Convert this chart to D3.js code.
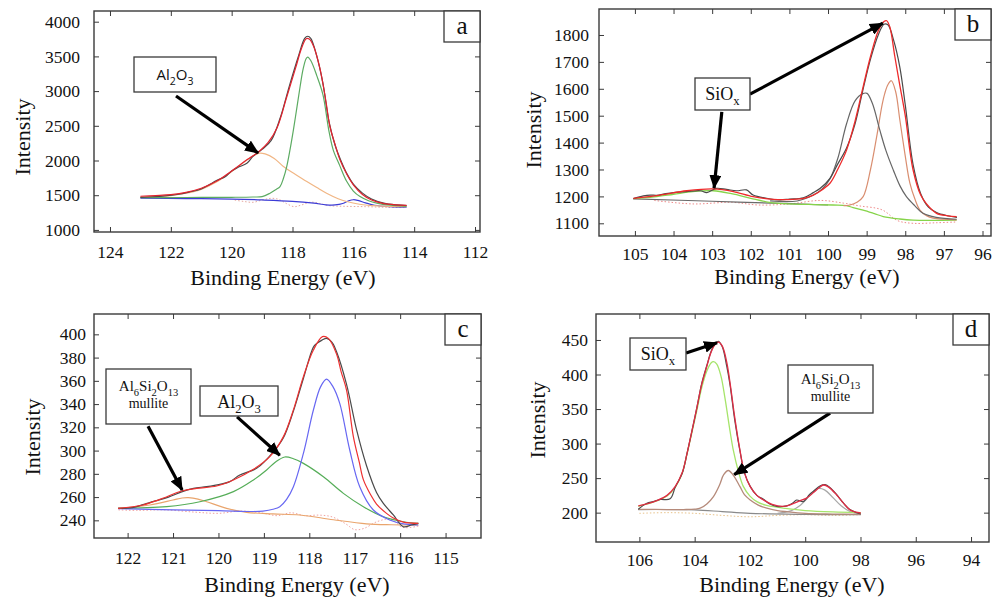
<!DOCTYPE html>
<meta charset="utf-8">
<style>
body { margin: 0; background: #fff; }
.frame { fill: none; stroke: #3a3a3a; stroke-width: 1.4; }
.tick line { stroke: #3a3a3a; stroke-width: 1; }
.curve { fill: none; }
.box { fill: #fff; stroke: #3a3a3a; stroke-width: 1.3; }
.arrow { stroke: #000; stroke-width: 3.2; fill: none; }
</style>
<body>
<script src="https://cdn.jsdelivr.net/npm/d3@7"></script>
<script>
var SERIF = "Liberation Serif";
var SANS = "Open Sans";

// ---------- panel a : Al 2p, as deposited  (energy eV, intensity)
var aRaw = [[123.0,1470],[122.6,1478],[122.2,1490],[121.8,1510],[121.4,1545],[121.0,1590],[120.7,1660],[120.5,1712],[120.2,1770],[120.0,1850],[119.8,1900],[119.5,1960],[119.3,2060],[119.0,2160],[118.7,2290],[118.4,2620],[118.1,3080],[117.8,3510],[117.6,3760],[117.5,3790],[117.4,3760],[117.2,3500],[117.0,3110],[116.8,2560],[116.6,2220],[116.4,1990],[116.2,1800],[116.0,1660],[115.7,1530],[115.4,1445],[115.0,1385],[114.6,1360],[114.25,1352]];
var aFit = [[123.0,1485],[122.5,1495],[122.0,1508],[121.5,1540],[121.0,1600],[120.5,1700],[120.0,1850],[119.5,2010],[119.1,2130],[118.8,2260],[118.5,2480],[118.2,2900],[117.9,3330],[117.7,3620],[117.55,3755],[117.45,3750],[117.3,3640],[117.1,3330],[116.9,2850],[116.77,2490],[116.6,2230],[116.44,2010],[116.2,1790],[116.0,1650],[115.7,1510],[115.4,1430],[115.0,1380],[114.6,1362],[114.25,1355]];
var aAl2O3 = [[123.0,1470],[122.0,1495],[121.5,1528],[121.0,1585],[120.5,1690],[120.0,1840],[119.6,1975],[119.3,2065],[119.1,2105],[118.9,2095],[118.6,2030],[118.3,1915],[117.9,1800],[117.53,1697],[117.2,1610],[116.88,1529],[116.5,1450],[116.22,1409],[115.8,1370],[115.2,1345],[114.25,1335]];
var aMetal = [[123.0,1465],[121.5,1467],[120.0,1470],[119.3,1474],[119.0,1480],[118.74,1529],[118.55,1580],[118.41,1624],[118.3,1740],[118.19,1913],[118.08,2160],[117.97,2442],[117.85,2780],[117.75,3066],[117.65,3320],[117.55,3470],[117.5,3490],[117.4,3440],[117.2,3220],[117.0,2950],[116.8,2420],[116.66,2150],[116.45,1930],[116.22,1700],[116.0,1560],[115.78,1480],[115.5,1420],[115.23,1385],[114.8,1355],[114.25,1340]];
var aBase = [[123.0,1457],[121.5,1452],[120.0,1445],[119.0,1432],[118.0,1412],[117.3,1385],[116.9,1362],[116.6,1360],[116.35,1380],[116.15,1420],[116.0,1435],[115.85,1425],[115.6,1390],[115.3,1355],[114.8,1335],[114.25,1328]];
var aResid = [[119.9,1430],[119.6,1410],[119.3,1398],[119.0,1430],[118.7,1455],[118.45,1440],[118.2,1380],[117.95,1335],[117.7,1360],[117.4,1400],[117.1,1380],[116.8,1350],[116.3,1340],[115.6,1335],[114.9,1325],[114.25,1322]];
var aXTicks = [124, 122, 120, 118, 116, 114, 112];
var aYTicks = [1000, 1500, 2000, 2500, 3000, 3500, 4000];

// ---------- panel b : Si 2p
var bRaw = [[105.04,1192],[104.78,1202],[104.6,1205],[104.44,1204],[104.2,1210],[104.0,1214],[103.66,1218],[103.3,1221],[103.14,1214],[102.89,1230],[102.63,1226],[102.37,1221],[102.11,1224],[101.94,1205],[101.59,1193],[101.25,1187],[101.0,1190],[100.64,1195],[100.38,1214],[100.2,1230],[99.95,1267],[99.75,1320],[99.52,1380],[99.3,1470],[99.09,1600],[98.9,1710],[98.7,1800],[98.55,1840],[98.45,1838],[98.3,1780],[98.14,1680],[98.0,1540],[97.8,1320],[97.6,1210],[97.4,1160],[97.19,1140],[96.9,1128],[96.66,1122]];
var bFit = [[105.04,1193],[104.35,1205],[103.66,1221],[102.97,1228],[102.45,1218],[101.94,1199],[101.42,1189],[100.9,1189],[100.6,1194],[100.38,1205],[100.15,1225],[99.95,1249],[99.75,1300],[99.52,1372],[99.3,1480],[99.09,1608],[98.9,1720],[98.7,1815],[98.55,1850],[98.48,1853],[98.4,1830],[98.27,1720],[98.15,1620],[98.0,1500],[97.8,1300],[97.6,1205],[97.45,1172],[97.19,1137],[96.9,1128],[96.67,1125]];
var bSi1 = [[101.5,1183],[100.8,1183],[100.38,1205],[100.15,1228],[99.95,1265],[99.75,1340],[99.52,1470],[99.3,1555],[99.1,1582],[98.99,1583],[98.85,1545],[98.66,1447],[98.5,1370],[98.31,1298],[98.14,1240],[97.97,1199],[97.75,1165],[97.54,1137],[97.2,1122],[96.67,1115]];
var bSi2 = [[99.6,1166],[99.43,1168],[99.25,1178],[99.09,1199],[98.9,1300],[98.74,1422],[98.6,1540],[98.53,1583],[98.45,1615],[98.36,1630],[98.25,1590],[98.14,1484],[98.0,1350],[97.88,1249],[97.75,1190],[97.62,1149],[97.45,1128],[97.28,1119],[96.67,1113]];
var bOx = [[105.04,1192],[104.5,1198],[104.0,1208],[103.5,1218],[102.97,1221],[102.5,1210],[102.0,1193],[101.6,1180],[101.25,1174],[100.5,1170],[99.87,1168],[99.52,1166],[99.35,1158],[99.09,1149],[98.8,1136],[98.57,1125],[98.14,1116],[97.8,1112],[96.67,1112]];
var bBase = [[105.04,1191],[103.0,1182],[101.0,1173],[100.0,1168]];
var bResid = [[104.5,1185],[103.5,1172],[102.5,1178],[101.8,1168],[101.0,1172],[100.2,1185],[99.6,1175],[99.2,1165],[98.6,1150],[98.2,1110],[97.8,1100],[97.2,1102],[96.67,1105]];
var bXTicks = [105, 104, 103, 102, 101, 100, 99, 98, 97, 96];
var bYTicks = [1100, 1200, 1300, 1400, 1500, 1600, 1700, 1800];

// ---------- panel c : Al 2p after anneal
var cRaw = [[122.21,250.3],[121.9,251],[121.66,253.5],[121.5,255.5],[121.36,257],[121.1,260],[120.81,264.5],[120.55,267.5],[120.26,269],[119.97,271],[119.75,273.3],[119.53,279],[119.16,284.7],[118.79,299],[118.57,311],[118.35,334],[118.13,362],[117.91,389],[117.84,392],[117.72,395],[117.62,396.5],[117.5,393],[117.4,385],[117.18,357],[116.96,318],[116.74,287],[116.52,264],[116.37,254.6],[116.15,244.6],[115.93,234.5],[115.75,236],[115.6,237.4]];
var cFit = [[122.21,250.3],[121.66,253.2],[121.29,258],[120.81,265.2],[120.48,267.5],[120.04,269.5],[119.67,274.7],[119.23,283.9],[118.87,294.8],[118.57,312],[118.35,335],[118.13,363.6],[117.91,386.5],[117.71,398],[117.58,396.5],[117.4,383],[117.3,368],[117.18,352],[117.03,312],[116.9,290],[116.81,275],[116.65,262],[116.52,254],[116.3,246],[116.15,242],[115.93,238.5],[115.6,237.4]];
var cAl = [[122.21,250],[121.0,249],[120.0,248.3],[119.23,247.6],[119.02,248],[118.8,249.5],[118.65,251.7],[118.5,258],[118.35,268.9],[118.13,297.6],[117.91,334.9],[117.75,355],[117.62,361.5],[117.48,355],[117.33,340.6],[117.11,300.5],[116.89,268.9],[116.59,248.9],[116.23,240.3],[115.93,237],[115.6,236]];
var cAl2O3 = [[122.21,250.3],[121.14,251.8],[120.41,256],[119.67,264.7],[119.23,274.7],[118.94,283.3],[118.75,290],[118.54,294.5],[118.35,293],[118.13,289],[117.69,277.5],[117.25,263.2],[116.81,251.7],[116.37,243.1],[115.93,238.8],[115.6,237.4]];
var cMullite = [[122.21,250.3],[121.51,253.2],[121.0,257.5],[120.8,259.2],[120.66,259.5],[120.45,258.3],[120.26,256],[119.82,250.3],[119.38,246.9],[118.8,245.5],[118.21,244.6],[117.47,240.5],[116.74,237],[116.2,236.2],[115.6,236]];
var cResid = [[122.2,249],[121.8,248.5],[121.2,249],[120.5,247],[120.0,246],[119.5,248],[119.0,246],[118.7,244],[118.4,246.5],[118.1,244],[117.8,244.5],[117.5,243],[117.2,237],[117.0,232],[116.8,233],[116.5,239],[116.2,241],[115.95,234],[115.6,235]];
var cXTicks = [122, 121, 120, 119, 118, 117, 116, 115];
var cYTicks = [240, 260, 280, 300, 320, 340, 360, 380, 400];

// ---------- panel d : Si 2p after anneal
var dRaw = [[106.04,204.8],[105.73,213.5],[105.5,216],[105.25,219],[104.89,220],[104.7,237],[104.45,257],[104.28,285],[104.1,318],[103.92,352],[103.75,386],[103.56,413],[103.4,434],[103.25,445],[103.14,448],[103.0,440],[102.84,412],[102.72,385],[102.55,334],[102.36,289],[102.2,258],[101.99,238],[101.75,225],[101.51,219.3],[101.3,213],[101.03,209],[100.67,209.7],[100.45,214],[100.31,218.3],[100.07,216],[99.85,226],[99.7,231],[99.45,239],[99.28,240.5],[99.1,236],[98.86,226],[98.62,214],[98.4,205],[98.2,201],[97.99,198]];
var dFit = [[106.04,209.7],[105.7,213],[105.37,217.5],[105.0,225],[104.7,238],[104.45,258],[104.28,285],[104.1,318],[103.92,352],[103.75,385],[103.56,412],[103.4,433],[103.25,444],[103.14,447],[103.0,441],[102.84,418],[102.72,388],[102.55,338],[102.36,290],[102.2,258],[101.99,237.6],[101.75,225],[101.51,218.4],[101.2,212],[100.8,209],[100.5,212],[100.2,217],[99.95,221],[99.7,229],[99.5,236],[99.34,240],[99.15,237],[98.86,225.6],[98.6,213],[98.38,204],[98.2,201],[97.99,199.5]];
var dSiOx = [[106.04,209],[105.37,217],[105.0,224],[104.7,237],[104.45,257],[104.28,284],[104.1,316],[103.92,348],[103.75,380],[103.56,405],[103.4,417],[103.32,418.6],[103.2,415],[103.05,398],[102.9,365],[102.72,318],[102.6,290],[102.42,260],[102.24,238],[102.0,224],[101.75,216],[101.4,210.5],[101.03,208],[100.5,205],[100.0,203],[99.0,201],[97.99,200]];
var dMullite = [[106.04,204.8],[105.0,204.5],[104.4,204.5],[104.0,205],[103.8,206.4],[103.55,213],[103.32,223.2],[103.1,240],[102.95,255],[102.78,261],[102.6,254],[102.36,237.6],[102.2,226],[101.99,218.4],[101.7,211],[101.39,206.4],[101.0,203],[100.67,201.4],[100.0,199],[99.0,198],[97.99,197.5]];
var dSi = [[101.0,199],[100.5,203],[100.2,210],[99.9,222],[99.7,231],[99.52,235],[99.3,233],[99.0,222],[98.7,210],[98.4,202],[97.99,198]];
var dBase = [[106.04,204.5],[104.0,204],[103.0,201.5],[102.0,199],[100.0,197.5],[97.99,197]];
var dResid = [[106.0,199],[105.0,200],[104.0,199],[103.0,196],[102.0,194],[101.0,196],[100.0,197],[99.0,196],[98.0,197]];
var dXTicks = [106, 104, 102, 100, 98, 96, 94];
var dYTicks = [200, 250, 300, 350, 400, 450];

// ---------- panel layout
var panels = [
  { frame: {x: 94, y: 11, w: 386, h: 221}, xDomain: [124.526, 111.836], yDomain: [970, 4154],
    xTicks: aXTicks, yTicks: aYTicks, yPad: 14, xPad: 14,
    yTitle: [22, 137], xTitle: [283, 285], letter: "a",
    curves: [
      {data: aResid, color: "#e7a9a0", width: 1, dash: "1.5,2"},
      {data: aBase, color: "#3c3cd6", width: 1.2},
      {data: aAl2O3, color: "#f1b684", width: 1.2},
      {data: aMetal, color: "#5cab62", width: 1.2},
      {data: aRaw, color: "#4a4a4a", width: 1.2},
      {data: aFit, color: "#e2232e", width: 1.2}],
    boxes: [{x: 134, y: 57, w: 82, h: 35, sans: true, lines: [{t: "Al{2}O{3}", size: 15, dy: 23}]}],
    arrows: [{from: [121.83, 2930], to: [119.13, 2109]}] },
  { frame: {x: 599, y: 9, w: 392, h: 227}, xDomain: [105.93, 95.78], yDomain: [1052.8, 1896.6],
    xTicks: bXTicks, yTicks: bYTicks, yPad: 10, xPad: 12,
    yTitle: [533, 130], xTitle: [807, 284], letter: "b",
    curves: [
      {data: bResid, color: "#f08b8b", width: 1, dash: "1.5,2"},
      {data: bBase, color: "#6a6a6a", width: 1.2},
      {data: bOx, color: "#86d44a", width: 1.3},
      {data: bSi2, color: "#d98e70", width: 1.2},
      {data: bSi1, color: "#666666", width: 1.2},
      {data: bRaw, color: "#4a4a4a", width: 1.2},
      {data: bFit, color: "#ee2a2a", width: 1.3}],
    boxes: [{x: 695, y: 78, w: 55, h: 32, lines: [{t: "SiO{x}", size: 18, dy: 22}]}],
    arrows: [{from: [102.02, 1580], to: [98.58, 1844]}, {from: [102.75, 1514], to: [102.95, 1231]}] },
  { frame: {x: 94, y: 314, w: 387, h: 224}, xDomain: [122.74, 114.22], yDomain: [224.8, 417.5],
    xTicks: cXTicks, yTicks: cYTicks, yPad: 8, xPad: 14,
    yTitle: [32, 437], xTitle: [297, 592], letter: "c",
    curves: [
      {data: cResid, color: "#f2a3a3", width: 1, dash: "1.5,2"},
      {data: cMullite, color: "#e9a56d", width: 1.2},
      {data: cAl2O3, color: "#55ad58", width: 1.2},
      {data: cAl, color: "#6767f2", width: 1.2},
      {data: cRaw, color: "#4a4a4a", width: 1.2},
      {data: cFit, color: "#ee3030", width: 1.2}],
    boxes: [{x: 106, y: 369, w: 85, h: 55, lines: [{t: "Al{6}Si{2}O{13}", size: 15, dy: 22}, {t: "mullite", size: 14, dy: 39}]},
            {x: 200, y: 386, w: 78, h: 30, lines: [{t: "Al{2}O{3}", size: 18, dy: 22}]}],
    arrows: [{from: [121.55, 321], to: [120.80, 266]}, {from: [119.59, 329], to: [118.65, 296]}] },
  { frame: {x: 596, y: 314, w: 393, h: 228}, xDomain: [107.57, 93.35], yDomain: [157.5, 487.6],
    xTicks: dXTicks, yTicks: dYTicks, yPad: 8, xPad: 12,
    yTitle: [537, 420], xTitle: [792, 592], letter: "d",
    curves: [
      {data: dResid, color: "#e9c38a", width: 1, dash: "1.5,2"},
      {data: dBase, color: "#8a8a8a", width: 1.2},
      {data: dSi, color: "#a8a8a8", width: 1.2},
      {data: dMullite, color: "#b58a7a", width: 1.3},
      {data: dSiOx, color: "#a6e46a", width: 1.3},
      {data: dRaw, color: "#4a4a4a", width: 1.2},
      {data: dFit, color: "#e02c44", width: 1.3}],
    boxes: [{x: 630, y: 338, w: 56, h: 32, lines: [{t: "SiO{x}", size: 18, dy: 22}]},
            {x: 788, y: 365, w: 85, h: 48, lines: [{t: "Al{6}Si{2}O{13}", size: 15, dy: 19}, {t: "mullite", size: 14, dy: 36}]}],
    arrows: [{from: [104.31, 431], to: [103.19, 446]}, {from: [99.10, 344], to: [102.57, 255]}] }
];

var svg = d3.select("body").append("svg")
    .attr("width", 1005)
    .attr("height", 601);

svg.append("defs").append("marker")
    .attr("id", "head")
    .attr("markerUnits", "userSpaceOnUse")
    .attr("viewBox", "0 0 14 12")
    .attr("refX", 13).attr("refY", 6)
    .attr("markerWidth", 14).attr("markerHeight", 12)
    .attr("orient", "auto")
  .append("path")
    .attr("d", "M0,0L14,6L0,12Z")
    .attr("fill", "#000");

// text with {subscript} parts
function richText(sel, str, size) {
  var parts = str.match(/\{[^}]*\}|[^{]+/g);
  var down = false;
  parts.forEach(function(p) {
    var sub = p[0] === "{";
    var t = sel.append("tspan").text(sub ? p.slice(1, -1) : p);
    if (sub) {
      t.attr("font-size", size * 0.7).attr("dy", down ? 0 : size * 0.3);
      down = true;
    } else {
      t.attr("font-size", size).attr("dy", down ? -size * 0.3 : 0);
      down = false;
    }
  });
}

panels.forEach(function(p) {
  var f = p.frame;
  var x = d3.scaleLinear().domain(p.xDomain).range([f.x, f.x + f.w]);
  var y = d3.scaleLinear().domain(p.yDomain).range([f.y + f.h, f.y]);
  var g = svg.append("g");

  // axes, ticks pointing inward on all four sides
  var bottom = g.append("g").attr("transform", "translate(0," + (f.y + f.h) + ")")
      .call(d3.axisBottom(x).tickValues(p.xTicks).tickSize(-5).tickPadding(p.xPad).tickFormat(d3.format("d")));
  var top = g.append("g").attr("transform", "translate(0," + f.y + ")")
      .call(d3.axisTop(x).tickValues(p.xTicks).tickSize(-5).tickFormat(""));
  var left = g.append("g").attr("transform", "translate(" + f.x + ",0)")
      .call(d3.axisLeft(y).tickValues(p.yTicks).tickSize(-5).tickPadding(p.yPad).tickFormat(d3.format("d")));
  var right = g.append("g").attr("transform", "translate(" + (f.x + f.w) + ",0)")
      .call(d3.axisRight(y).tickValues(p.yTicks).tickSize(-5).tickFormat(""));
  [bottom, top, left, right].forEach(function(a) {
    a.attr("font-family", SERIF).attr("font-size", 17.5);
    a.select(".domain").remove();
  });
  g.selectAll(".tick text").attr("fill", "#111");

  // curves
  var line = d3.line()
      .x(function(d) { return x(d[0]); })
      .y(function(d) { return y(d[1]); })
      .curve(d3.curveCatmullRom.alpha(0.5));
  p.curves.forEach(function(c) {
    g.append("path")
        .datum(c.data)
        .attr("class", "curve")
        .attr("d", line)
        .attr("stroke", c.color)
        .attr("stroke-width", c.width)
        .attr("stroke-dasharray", c.dash || null);
  });

  g.append("rect").attr("class", "frame")
      .attr("x", f.x).attr("y", f.y).attr("width", f.w).attr("height", f.h);

  // panel letter
  g.append("rect").attr("class", "box")
      .attr("x", f.x + f.w - 36).attr("y", f.y).attr("width", 36).attr("height", 31);
  g.append("text")
      .attr("x", f.x + f.w - 18).attr("y", f.y + 23)
      .attr("text-anchor", "middle")
      .attr("font-family", SERIF)
      .attr("font-size", 25)
      .attr("fill", "#111")
      .text(p.letter);

  // axis titles
  g.append("text")
      .attr("transform", "translate(" + p.yTitle[0] + "," + p.yTitle[1] + ") rotate(-90)")
      .attr("text-anchor", "middle")
      .attr("dy", "0.35em")
      .attr("font-family", SERIF)
      .attr("font-size", 22)
      .attr("fill", "#111")
      .text("Intensity");
  g.append("text")
      .attr("x", p.xTitle[0]).attr("y", p.xTitle[1])
      .attr("text-anchor", "middle")
      .attr("font-family", SERIF)
      .attr("font-size", 22)
      .attr("fill", "#111")
      .text("Binding Energy (eV)");

  // arrows
  p.arrows.forEach(function(a) {
    g.append("line").attr("class", "arrow")
        .attr("x1", x(a.from[0])).attr("y1", y(a.from[1]))
        .attr("x2", x(a.to[0])).attr("y2", y(a.to[1]))
        .attr("marker-end", "url(#head)");
  });

  // annotation boxes
  p.boxes.forEach(function(b) {
    g.append("rect").attr("class", "box")
        .attr("x", b.x).attr("y", b.y).attr("width", b.w).attr("height", b.h);
    b.lines.forEach(function(l) {
      var t = g.append("text")
          .attr("x", b.x + b.w / 2).attr("y", b.y + l.dy)
          .attr("text-anchor", "middle")
          .attr("font-family", b.sans ? SANS : SERIF)
          .attr("fill", "#111");
      richText(t, l.t, l.size);
    });
  });
});
</script>
</body>
